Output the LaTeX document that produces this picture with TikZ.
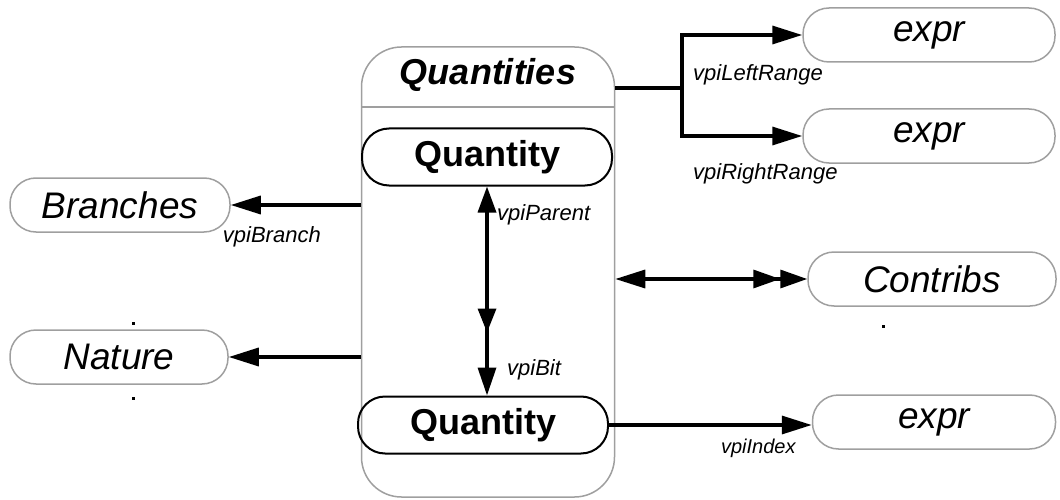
\documentclass[tikz,border=0pt]{standalone}
\usepackage{fontspec}
\setmainfont{Liberation Sans}
\usetikzlibrary{arrows.meta, positioning, calc}

\begin{document}
\begin{tikzpicture}[x=1pt, y=-1pt,
  grp/.style={rectangle, draw=gray!75, line width=1.5pt, rounded corners=40pt,
              minimum width=253pt, minimum height=450pt},
  ent/.style={rectangle, draw=gray!75, line width=1.5pt, rounded corners=26pt,
              minimum height=54pt, font=\fontsize{37}{40}\selectfont\itshape},
  qty/.style={rectangle, draw=black, line width=2pt, rounded corners=27pt,
              minimum width=250pt, minimum height=57pt, font=\fontsize{36}{40}\selectfont\bfseries},
  lbl/.style={inner sep=0pt, font=\fontsize{22}{24}\selectfont\itshape},
  tip/.style={line width=3.4pt},
  arr/.style={tip, -{Triangle[length=30pt, width=18pt]}}
]
  \useasboundingbox (0,0) rectangle (1060,500);

  % the Quantities group
  \node[grp] (qs) at (488,272) {};
  \node[font=\fontsize{36}{40}\selectfont\bfseries\itshape] (qstitle) at (488,75) {Quantities};
  \coordinate (sep) at (0,107);
  \draw[draw=gray!75, line width=1.5pt] (qs.west |- sep) -- (qs.east |- sep);
  \node[qty] (q1) at (487,157) {Quantity};
  \node[qty] (q2) at (483,425) {Quantity};

  % objects round it
  \node[ent, minimum width=252pt] (e1)  at (929,35)  {expr};
  \node[ent, minimum width=252pt] (e2)  at (929,136) {expr};
  \node[ent, minimum width=248pt] (ctb) at (932,279) {Contribs};
  \node[ent, minimum width=243pt] (e3)  at (934,422) {expr};
  \node[ent, minimum width=220pt] (br)  at (120,205) {Branches};
  \node[ent, minimum width=218pt] (nat) at (119,357) {Nature};

  % connectors
  \coordinate (fork) at (682,88);
  \draw[arr] (qs.east |- fork) -- (fork) |- (e1.west);
  \draw[arr] (qs.east |- fork) -- (fork) |- (e2.west);
  \draw[tip, {Triangle[length=30pt, width=18pt]}-{Triangle[length=27pt, width=18pt]Triangle[length=27pt, width=18pt]}]
    (qs.east |- ctb) -- (ctb.west);
  \draw[arr] (q2.east) -- (q2.east -| e3.west);
  \draw[arr] (qs.west |- br) -- (br.east);
  \draw[arr] (qs.west |- nat) -- (nat.east);
  \draw[tip, {Triangle[length=26pt, width=18pt]}-{Triangle[length=24pt, width=18pt, sep=35pt]Triangle[length=28pt, width=18pt]}]
    (q1.south) -- (q1.south |- q2.north);

  % labels
  \coordinate (c1) at (fork |- e1.west);
  \coordinate (c2) at (fork |- e2.west);
  \node[lbl, below right=29pt and 11pt of c1] (lleft)  {vpiLeftRange};
  \node[lbl, below right=27pt and 11pt of c2] (lright) {vpiRightRange};
  \node[lbl, below right=18pt and 10pt of q1.south] (lpar) {vpiParent};
  \node[lbl, above right=15pt and 24pt of q2.north] (lbit) {vpiBit};
  \node[lbl, below right=21pt and -8pt of br.east] (lbr) {vpiBranch};
  \node[lbl, below left=17pt and 16pt of e3.west, font=\fontsize{20}{22}\selectfont\itshape] (lidx) {vpiIndex};

  % stray marks
  \fill (132,322) rectangle (135,325);
  \fill (132,397) rectangle (135,400);
  \fill (882,325) rectangle (885,328);
\end{tikzpicture}
\end{document}
